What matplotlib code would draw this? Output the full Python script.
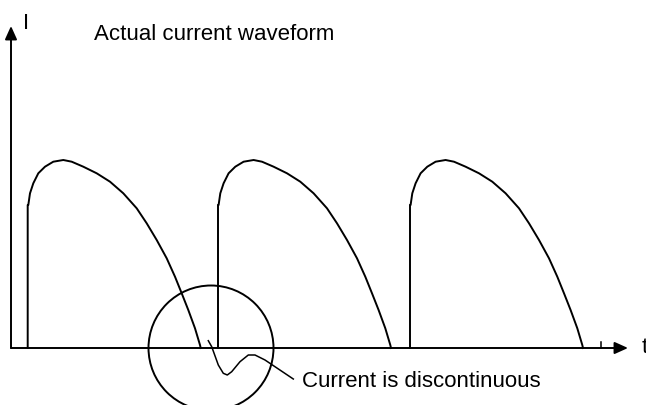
import matplotlib
matplotlib.use('Agg')
import matplotlib.pyplot as plt
from matplotlib.patches import Circle

plt.rcParams['font.family'] = ['Liberation Sans', 'DejaVu Sans']

# one pulse shape: time since firing, current
pulse_dt = [0, 0, 0.6, 2.3, 5.6, 10.6, 17.3, 25.6, 35.6, 44, 55.6, 69, 82.3,
            95.6, 109, 119, 129, 139, 147.3, 154, 160.6, 167.3, 172.3, 173]
pulse_i = [0, 143, 143, 154.7, 164.7, 174.7, 181.3, 186.3, 188, 186.3, 181.3,
           174.7, 166.3, 154.7, 139.7, 124.7, 108, 89.7, 71.3, 54.7, 38, 19.7, 3, 0]
fire_times = [16.7, 207, 399]

# the dip below zero inside the circle, plus the leader line to the label
dip_t = [197.3, 200.7, 207.3, 212.3, 216.3, 220.7, 229, 237.3, 244, 254, 282.3]
dip_i = [7.3, 1.3, -17, -25.3, -27, -23.7, -13.7, -7, -7, -12, -31]

fig = plt.figure(figsize=(6.46, 4.05), dpi=100)
ax = fig.add_axes([0, 0, 1, 1])
ax.set_xlim(-11, 635)
ax.set_ylim(-57, 348)
ax.axis('off')

# axes with arrows
ax.annotate('', xy=(617, 0), xytext=(0, 0),
            arrowprops=dict(arrowstyle='-|>,head_length=0.8,head_width=0.36',
                            lw=1.4, color='black', shrinkA=0, shrinkB=0))
ax.annotate('', xy=(0, 322), xytext=(0, 0),
            arrowprops=dict(arrowstyle='-|>,head_length=0.8,head_width=0.36',
                            lw=1.4, color='black', shrinkA=0, shrinkB=0))

for t0 in fire_times:
    ax.plot([t0 + d for d in pulse_dt], pulse_i, color='black', lw=1.4,
            solid_joinstyle='round')

ax.plot(dip_t, dip_i, color='black', lw=1.1)
ax.plot([590, 590], [0, 6], color='black', lw=1.1)

ax.add_patch(Circle((200, 0), 62.5, fill=False, ec='black', lw=1.4))

ax.text(12, 319, 'I', fontsize=16, va='baseline')
ax.text(83, 308, 'Actual current waveform', fontsize=16, va='baseline')
ax.text(631, -5, 't', fontsize=16, va='baseline')
ax.text(290.7, -38.7, 'Current is discontinuous', fontsize=16, va='baseline')

fig.savefig('out.png', dpi=100)
